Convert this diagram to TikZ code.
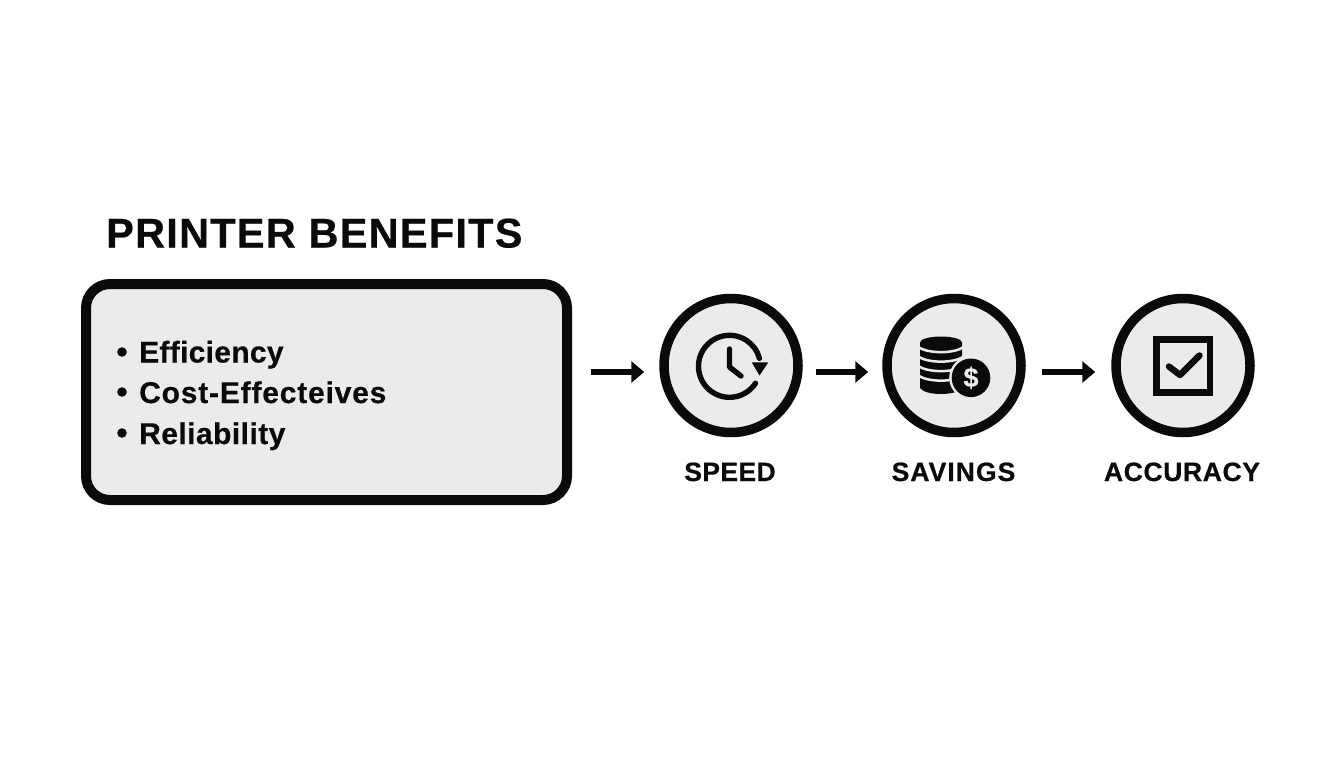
\documentclass[tikz,border=0pt]{standalone}
\usepackage{fontspec}
\setmainfont{Liberation Sans}[BoldFeatures={FakeBold=0.5}]
\usetikzlibrary{arrows.meta,calc}
\definecolor{panel}{HTML}{EBEBEB}
\definecolor{ink}{HTML}{0A0A0A}
\newcommand{\lsp}[1]{\addfontfeature{LetterSpace=#1}}
\tikzset{
  bigbox/.style={draw=ink,fill=panel,line width=10pt,rounded corners=24pt,minimum width=481pt,minimum height=216pt,inner sep=0pt},
  disc/.style={circle,draw=ink,fill=panel,line width=9.5pt,minimum size=134pt,inner sep=0pt},
  flow/.style={draw=ink,line width=6.4pt,-{Triangle[length=13pt,width=21pt]}},
  titletext/.style={anchor=base west,inner sep=0pt,font=\fontsize{41.5}{41.5}\selectfont\bfseries,text=ink},
  itemtext/.style={anchor=base west,inner sep=0pt,font=\fontsize{30}{30}\selectfont\bfseries,text=ink},
  captext/.style={anchor=base,inner sep=0pt,font=\fontsize{26.5}{26.5}\selectfont\bfseries,text=ink},
  glyph/.style={draw=ink,line width=5.4pt,line cap=round,line join=round},
  gap/.style={draw=panel,line width=2.5pt},
}
\begin{document}
\begin{tikzpicture}[x=1pt,y=-1pt]
\useasboundingbox (0,0) rectangle (1344,768);
\fill[white] (0,0) rectangle (1344,768);
\node[titletext] (title) at (106,247.5) {\lsp{3}PRINTER BENEFITS};
\node[bigbox] (box) at (326.5,392) {};
\node[itemtext] (i1) at (139,362.5) {\lsp{1}Efficiency};
\node[itemtext] (i2) at (139,403) {\lsp{2.7}Cost-Effecteives};
\node[itemtext] (i3) at (139,444) {\lsp{1.5}Reliability};
\fill[ink] (122,352) circle (4.8);
\fill[ink] (122,392) circle (4.8);
\fill[ink] (122,433) circle (4.8);
\node[disc] (speed) at (731,365.5) {};
\node[disc] (savings) at (954,365.5) {};
\node[disc] (accuracy) at (1183,365.5) {};
\node[captext] (l1) at (730,481) {\lsp{1.5}SPEED};
\node[captext] (l2) at (953.5,481) {\lsp{4}SAVINGS};
\node[captext] (l3) at (1182,481) {\lsp{2.4}ACCURACY};
\coordinate (lane) at (0,372);
\draw[flow,shorten <=19pt,shorten >=15pt] (box.east |- lane) -- (speed.west |- lane);
\draw[flow,shorten <=13pt,shorten >=14pt] (speed.east |- lane) -- (savings.west |- lane);
\draw[flow,shorten <=16pt,shorten >=16pt] (savings.east |- lane) -- (accuracy.west |- lane);
% clock
\draw[glyph] (755.5,383.2) arc[start angle=33,end angle=345,radius=31];
\draw[glyph] (729.5,349) -- (729.5,367) -- (741,376);
\fill[ink] (751.7,362.3) -- (768.3,362.3) -- (759.5,375.5) -- cycle;
% coins
\fill[ink] (920,342.5) -- (962,342.5) -- (962,388) .. controls (957,396) and (925,396) .. (920,388) -- cycle;
\fill[ink] (941,342.5) ellipse (21 and 6);
\foreach \yy in {346.5,356,365.5,375}{
  \draw[gap] (918,\yy) .. controls (926,\yy+7.5) and (956,\yy+7.5) .. (964,\yy);
}
\fill[panel] (971,377.8) circle (21.8);
\fill[ink] (971,377.8) circle (19.3);
\node[inner sep=0pt,text=panel,font=\fontsize{27}{27}\selectfont\bfseries] (dollar) at (971,377.8) {\$};
% checkbox
\draw[draw=ink,line width=6.6pt] (1156.7,339.5) rectangle (1210,392.5);
\draw[glyph,line width=6.4pt] (1169,366.5) -- (1180,375) -- (1199.5,355.5);
\end{tikzpicture}
\end{document}
